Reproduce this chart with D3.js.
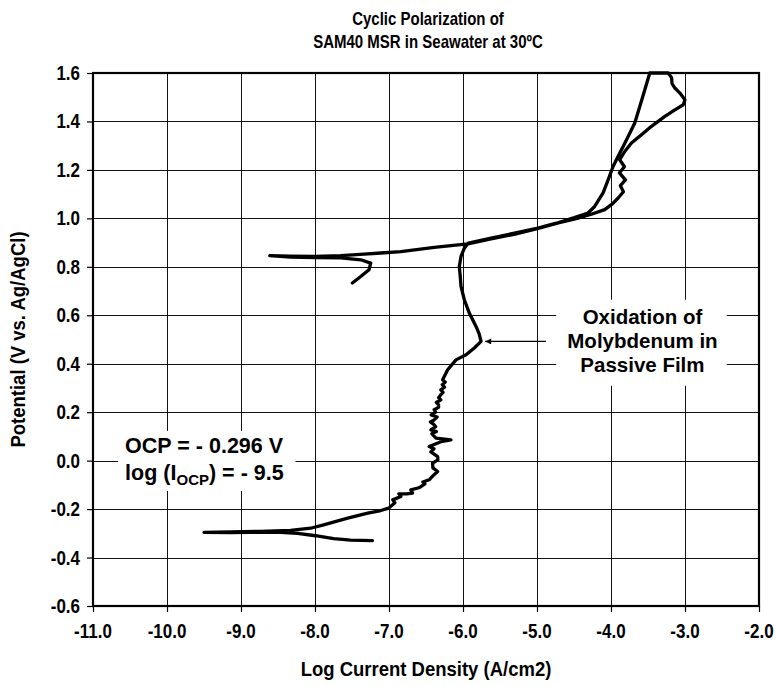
<!DOCTYPE html>
<html>
<head>
<meta charset="utf-8">
<script src="https://cdn.jsdelivr.net/npm/d3@7"></script>
<style>
  html, body { margin: 0; padding: 0; background: #fff; }
  svg text { font-family: "Liberation Sans", Arial, sans-serif; font-weight: bold; fill: #000; }
</style>
</head>
<body>
<svg id="chart" width="776" height="686"></svg>
<script>
// Cyclic polarization scan: log current density (A/cm2) vs potential (V vs Ag/AgCl)
const logCurrent = [
  -7.224, -7.518, -7.748, -7.992, -8.236, -8.466, -8.873, -9.144, -9.5,
  -9.144, -8.737, -8.331, -8.060, -7.883, -7.558, -7.287, -7.111, -7.003,
  -6.921, -6.949, -6.840, -6.867, -6.759, -6.682, -6.705, -6.596, -6.569, -6.515, -6.542, -6.457,
  -6.407, -6.343, -6.407, -6.411, -6.339, -6.343, -6.434, -6.393, -6.457, -6.298, -6.163, -6.366,
  -6.420, -6.360, -6.434, -6.370, -6.390, -6.440, -6.390, -6.350, -6.430, -6.370, -6.390, -6.330,
  -6.330, -6.360, -6.300, -6.330, -6.300, -6.270, -6.300, -6.250, -6.280, -6.240, -6.275,
  -6.207, -6.095, -5.959, -5.847, -5.756, -5.783, -5.824, -5.915, -5.982, -6.027, -6.037, -6.050,
  -6.027, -5.982, -5.928,
  -5.621, -5.305, -4.988, -4.740, -4.496, -4.310, -4.221, -4.107, -4.039, -3.972, -3.904, -3.836,
  -3.768, -3.679, -3.611, -3.543, -3.476, -3.398, -3.290, -3.226,
  -3.182, -3.175, -3.137, -3.069, -3.001, -3.023, -3.137, -3.272, -3.453, -3.588, -3.724, -3.814,
  -3.882, -3.818, -3.886, -3.805, -3.873, -3.832, -3.900, -3.981, -4.085, -4.266, -4.469, -4.699,
  -4.984, -5.295, -5.621, -5.932,
  -6.389, -6.840, -7.111, -7.337, -7.653, -7.992, -8.331, -8.611,
  -8.331, -7.992, -7.653, -7.382, -7.247, -7.270, -7.382, -7.495
];
const potential = [
  -0.330, -0.328, -0.322, -0.310, -0.300, -0.296, -0.296, -0.297, -0.296,
  -0.294, -0.292, -0.288, -0.279, -0.265, -0.237, -0.217, -0.206, -0.196,
  -0.174, -0.162, -0.148, -0.137, -0.137, -0.134, -0.121, -0.112, -0.107, -0.096, -0.088, -0.079,
  -0.063, -0.045, -0.030, -0.010, 0.003, 0.017, 0.036, 0.049, 0.058, 0.078, 0.086, 0.093,
  0.111, 0.120, 0.127, 0.140, 0.148, 0.160, 0.168, 0.180, 0.189, 0.200, 0.210, 0.220,
  0.230, 0.240, 0.251, 0.260, 0.272, 0.282, 0.292, 0.303, 0.313, 0.324, 0.334,
  0.375, 0.416, 0.437, 0.465, 0.492, 0.524, 0.554, 0.609, 0.664, 0.719, 0.760, 0.801,
  0.843, 0.877, 0.898,
  0.919, 0.939, 0.960, 0.980, 1.003, 1.022, 1.049, 1.105, 1.159, 1.214, 1.256, 1.297,
  1.338, 1.394, 1.462, 1.531, 1.600, 1.600, 1.600, 1.600,
  1.581, 1.556, 1.538, 1.517, 1.490, 1.469, 1.448, 1.421, 1.380, 1.345, 1.311, 1.276,
  1.242, 1.213, 1.188, 1.159, 1.135, 1.110, 1.085, 1.060, 1.036, 1.017, 0.999, 0.982,
  0.959, 0.935, 0.915, 0.895,
  0.880, 0.863, 0.857, 0.852, 0.846, 0.843, 0.844, 0.846,
  0.840, 0.838, 0.837, 0.829, 0.815, 0.788, 0.760, 0.733
];

const xTicks = [-11, -10, -9, -8, -7, -6, -5, -4, -3, -2];
const yTicks = [1.6, 1.4, 1.2, 1.0, 0.8, 0.6, 0.4, 0.2, 0.0, -0.2, -0.4, -0.6];

const titleLines = ["Cyclic Polarization of", "SAM40 MSR in Seawater at 30ºC"];
const xTitle = "Log Current Density (A/cm2)";
const yTitle = "Potential (V vs. Ag/AgCl)";
const noteLines = ["Oxidation of", "Molybdenum in", "Passive Film"];
const ocpValue = -0.296;
const ocpLogI = -9.5;

const W = 776, H = 686;
const margin = { top: 73, right: 17, bottom: 80, left: 93 };
const svg = d3.select("#chart");

const x = d3.scaleLinear().domain([-11, -2]).range([margin.left, W - margin.right]);
const y = d3.scaleLinear().domain([-0.6, 1.6]).range([H - margin.bottom, margin.top]);

const fmt = d3.format(".1f");
const label = d => fmt(d).replace("−", "-");

// text drawn with a slight vertical stretch
function tallText(parent, tx, ty, sy, size, str, anchor, rot) {
  return parent.append("text")
    .attr("transform", `translate(${tx},${ty})` + (rot ? ` rotate(${rot})` : "") + ` scale(1,${sy})`)
    .attr("text-anchor", anchor || "middle")
    .style("font-size", size + "px")
    .text(str);
}

// grid
const grid = svg.append("g").attr("shape-rendering", "crispEdges");
grid.selectAll("line.v").data(xTicks).join("line")
  .attr("x1", d => Math.round(x(d)) + 0.5).attr("x2", d => Math.round(x(d)) + 0.5)
  .attr("y1", y(1.6)).attr("y2", y(-0.6))
  .attr("stroke", "#111").attr("stroke-width", 1);
grid.selectAll("line.h").data(yTicks).join("line")
  .attr("y1", d => Math.round(y(d)) + 0.5).attr("y2", d => Math.round(y(d)) + 0.5)
  .attr("x1", x(-11)).attr("x2", x(-2))
  .attr("stroke", "#111").attr("stroke-width", 1);

// axes (tick marks only; labels drawn separately)
const gx = svg.append("g").attr("transform", `translate(0,${y(-0.6)})`)
  .call(d3.axisBottom(x).tickValues(xTicks).tickFormat("").tickSize(6));
const gy = svg.append("g").attr("transform", `translate(${x(-11)},0)`)
  .call(d3.axisLeft(y).tickValues(yTicks).tickFormat("").tickSize(6));
[gx, gy].forEach(g => {
  g.select(".domain").remove();
  g.selectAll(".tick line").attr("stroke", "#000").attr("stroke-width", 1.2);
});

const xl = svg.append("g");
xTicks.forEach(t => tallText(xl, x(t), 638, 1.15, 17, label(t), "middle"));
const yl = svg.append("g");
yTicks.forEach(t => tallText(yl, 80, y(t) + 7, 1.15, 17, label(t), "end"));

// plot frame
svg.append("rect")
  .attr("x", x(-11)).attr("y", y(1.6))
  .attr("width", x(-2) - x(-11)).attr("height", y(-0.6) - y(1.6))
  .attr("fill", "none").attr("stroke", "#000").attr("stroke-width", 2.2);

// polarization curve
const pts = logCurrent.map((v, i) => [v, potential[i]]);
const line = d3.line().x(d => x(d[0])).y(d => y(d[1])).curve(d3.curveLinear);
svg.append("path").datum(pts)
  .attr("d", line)
  .attr("fill", "none").attr("stroke", "#000")
  .attr("stroke-width", 3.3).attr("stroke-linejoin", "round").attr("stroke-linecap", "round");

// OCP annotation box
svg.append("rect")
  .attr("x", x(-10.66)).attr("y", y(0.123))
  .attr("width", x(-8.263) - x(-10.66)).attr("height", y(-0.125) - y(0.123))
  .attr("fill", "#fff");
svg.append("text").attr("x", x(-10.566)).attr("y", y(0.032))
  .style("font-size", "21.5px").text(`OCP = - ${Math.abs(ocpValue).toFixed(3)} V`);
const t2 = svg.append("text").attr("x", x(-10.566)).attr("y", y(-0.079)).style("font-size", "21.5px");
t2.append("tspan").text("log (I");
t2.append("tspan").attr("dy", 5).style("font-size", "15px").text("OCP");
t2.append("tspan").attr("dy", -5).text(`) = - ${Math.abs(ocpLogI).toFixed(1)}`);

// oxidation annotation box
svg.append("rect")
  .attr("x", x(-4.74)).attr("y", y(0.664))
  .attr("width", x(-2.436) - x(-4.74)).attr("height", y(0.309) - y(0.664))
  .attr("fill", "#fff");
const noteY = [0.563, 0.464, 0.365];
svg.selectAll("text.note").data(noteLines).join("text")
  .attr("class", "note")
  .attr("x", x(-3.575)).attr("y", (d, i) => y(noteY[i]))
  .attr("text-anchor", "middle").style("font-size", "20.5px").text(d => d);

// arrow to the molybdenum oxidation peak
svg.append("defs").append("marker")
  .attr("id", "ah").attr("viewBox", "0 0 10 10").attr("refX", 10).attr("refY", 5)
  .attr("markerWidth", 8).attr("markerHeight", 6).attr("markerUnits", "userSpaceOnUse")
  .attr("orient", "auto")
  .append("path").attr("d", "M0,0L10,5L0,10Z").attr("fill", "#000");
svg.append("line")
  .attr("x1", x(-4.88)).attr("y1", y(0.492))
  .attr("x2", x(-5.70)).attr("y2", y(0.492))
  .attr("stroke", "#000").attr("stroke-width", 1.2).attr("marker-end", "url(#ah)");

// titles
const cx = (x(-11) + x(-2)) / 2;
titleLines.forEach((s, i) => tallText(svg, cx + 2, 25 + i * 23, 1.25, 15, s, "middle"));
tallText(svg, cx, 676, 1.1, 18.5, xTitle, "middle");
tallText(svg, 25, (y(1.6) + y(-0.6)) / 2, 1.1, 18.5, yTitle, "middle", -90);
</script>
</body>
</html>
